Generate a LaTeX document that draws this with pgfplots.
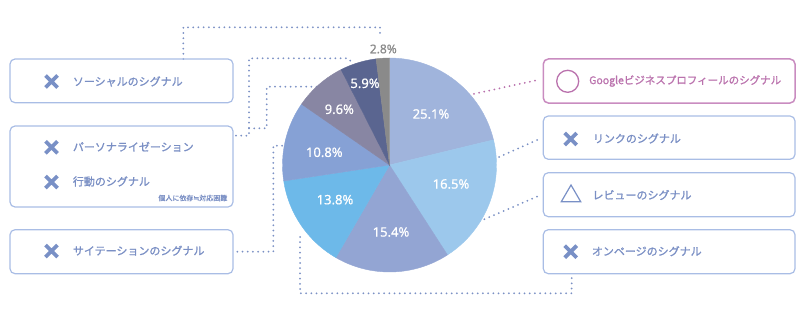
\documentclass[border=0pt]{standalone}
\usepackage{pgfplots}
\pgfplotsset{compat=1.18}
\usepackage{pgfplotstable}
\usepackage{fontspec}
\setmainfont{Noto Sans}
\newfontfamily\lab[FakeBold=0.7]{Noto Sans}
\newfontfamily\jp[FakeBold=1.2]{Noto Sans CJK JP}
\newfontfamily\dejavu[FakeBold=1.2]{DejaVu Sans}
\definecolor{s1}{HTML}{A0B4DC}
\definecolor{s2}{HTML}{9CC8EC}
\definecolor{s3}{HTML}{93A5D3}
\definecolor{s4}{HTML}{6DB9E9}
\definecolor{s5}{HTML}{86A1D5}
\definecolor{s6}{HTML}{8886A3}
\definecolor{s7}{HTML}{5A6590}
\definecolor{s8}{HTML}{8A8A8A}
\definecolor{txt}{HTML}{7A8FC4}
\definecolor{crossc}{HTML}{7990C6}
\definecolor{boxc}{HTML}{A9BDE5}
\definecolor{gtxt}{HTML}{BA72AD}
\definecolor{gbox}{HTML}{C98CC0}
\definecolor{dotc}{HTML}{7A90C4}
\definecolor{gdot}{HTML}{B870AC}

% pie slices: centre, start angle, end angle (degrees, as drawn), colour index
\pgfplotstableread{
x y start end ci
389.5 165 90 13.6 0
389.5 165 13.6 -57.2 1
389.5 165 -57.2 -120.1 2
389.5 165 -120.1 -171.4 3
389.5 165 -171.4 -214.7 4
389.5 165 -214.7 -243.1 5
389.5 165 -243.1 -262.8 6
389.5 165 -262.8 -270 7
}\pietable

\pgfplotstableread{
x y lab
431 114 25.1
451 184 16.5
391 232 15.4
335 199.7 13.8
324.3 152.3 10.8
339.3 109.3 9.6
365 83.3 5.9
}\labtable

\tikzset{
  dots/.style={dotc, line width=2pt, line cap=round, dash pattern=on 0pt off 5.2pt},
  gdots/.style={gdot, line width=2pt, line cap=round, dash pattern=on 0pt off 5.2pt},
  box/.style={boxc, line width=1.2pt, rounded corners=5pt},
  jtxt/.style={anchor=west, inner sep=0pt, text=txt, font=\jp\fontsize{11}{13}\selectfont},
}
\newcommand{\cross}[2]{\draw[crossc, line width=3.8pt] ([shift={(-6pt,-6pt)}]axis cs:#1,#2) -- ++(12pt,12pt) ([shift={(-6pt,6pt)}]axis cs:#1,#2) -- ++(12pt,-12pt);}

\begin{document}
\begin{tikzpicture}
\begin{axis}[
  width=800pt, height=321pt, scale only axis,
  xmin=0, xmax=800, ymin=0, ymax=321, y dir=reverse,
  hide axis, clip=false,
  colormap={pie}{color=(s1) color=(s2) color=(s3) color=(s4) color=(s5) color=(s6) color=(s7) color=(s8)},
]
\path (rel axis cs:0,0) rectangle (rel axis cs:1,1);

% dotted connectors (behind the pie)
\draw[dots] (axis cs:183.3,59) -- (axis cs:183.3,27.3) -- (axis cs:380,27.3) -- (axis cs:380,37);
\draw[dots] (axis cs:236,135.7) -- (axis cs:249,135.7) -- (axis cs:249,58.3) -- (axis cs:347,58.3) -- (axis cs:352,62);
\draw[dots] (axis cs:249,128.3) -- (axis cs:266.7,128.3) -- (axis cs:266.7,86.7) -- (axis cs:321.7,86.7);
\draw[dots] (axis cs:237.3,251.7) -- (axis cs:273.3,251.7) -- (axis cs:273.3,145.7) -- (axis cs:285,145.7);
\draw[dots] (axis cs:300,237) -- (axis cs:300,293.3) -- (axis cs:571.7,293.3) -- (axis cs:571.7,276);

% pie
\addplot[scatter, only marks, mark=*, mark size=0pt, mark options={draw=none,fill=none},
  point meta=\thisrow{ci}, point meta min=0, point meta max=7,
  visualization depends on={\thisrow{start} \as \sa},
  visualization depends on={\thisrow{end} \as \ea},
  scatter/@pre marker code/.code={%
    \pgfplotscolormapdefinemappedcolor{\pgfplotspointmetatransformed}%
    \fill[mapped color] (0pt,0pt) -- (\sa:107pt) arc[start angle=\sa, end angle=\ea, radius=107pt] -- cycle;
    \scope},
  scatter/@post marker code/.code={\endscope}]
  table[x=x,y=y] {\pietable};

% connectors over the pie
\draw[gdots] (axis cs:535,80.7) -- (axis cs:448.3,99.3);
\draw[dots] (axis cs:537,140) -- (axis cs:483.3,164);
\draw[dots] (axis cs:537,196.7) -- (axis cs:420,246.7);

% slice labels
\addplot[draw=none, mark=none, nodes near coords={\pgfplotspointmeta\%}, point meta=explicit symbolic,
  every node near coord/.style={anchor=center, inner sep=0pt, text=white, font=\lab\fontsize{13}{15}\selectfont}]
  table[x=x,y=y,meta=lab] {\labtable};
\addplot[draw=none, mark=none, nodes near coords={\pgfplotspointmeta\%}, point meta=explicit symbolic,
  every node near coord/.style={anchor=center, inner sep=0pt, text=s8, font=\lab\fontsize{12}{14}\selectfont}]
  coordinates {(383.3,49) [2.8]};

% left boxes
\draw[box] (axis cs:10,59) rectangle (axis cs:233,102.7);
\draw[box] (axis cs:10,126) rectangle (axis cs:233,207);
\draw[box] (axis cs:10,229.7) rectangle (axis cs:233,273.7);
\cross{51.5}{81.5}
\node[jtxt] at (axis cs:72.7,81.5) {ソーシャルのシグナル};
\cross{51.5}{147.3}
\node[jtxt] at (axis cs:72.7,146.8) {パーソナライゼーション};
\cross{51.5}{182}
\node[jtxt] at (axis cs:72.7,181.5) {行動のシグナル};
\node[anchor=east, inner sep=0pt, text=txt, font=\jp\fontsize{7}{8}\selectfont] at (axis cs:227.5,198) {個人に依存{\dejavu ≒}対応困難};
\cross{51.5}{251}
\node[jtxt] at (axis cs:72.7,250.7) {サイテーションのシグナル};

% right boxes
\draw[gbox, line width=1.5pt, rounded corners=5pt] (axis cs:543.3,59) rectangle (axis cs:795,103);
\draw[gtxt, line width=1.3pt] (axis cs:567.7,81.3) circle[radius=11pt];
\node[jtxt, text=gtxt, font=\jp\fontsize{10.5}{12}\selectfont] at (axis cs:589,81) {Googleビジネスプロフィールのシグナル};

\draw[box] (axis cs:543.3,116) rectangle (axis cs:795,159.3);
\cross{570.7}{139}
\node[jtxt] at (axis cs:592.7,138.5) {リンクのシグナル};

\draw[box] (axis cs:543.3,172.7) rectangle (axis cs:795,216.7);
\draw[crossc, line width=1.2pt, line join=miter] (axis cs:561.3,201.7) -- (axis cs:580.7,201.7) -- (axis cs:571,185) -- cycle;
\node[jtxt] at (axis cs:592.3,195) {レビューのシグナル};

\draw[box] (axis cs:543.3,229.7) rectangle (axis cs:795,273.7);
\cross{570.7}{251.7}
\node[jtxt] at (axis cs:591.7,251.2) {オンページのシグナル};
\end{axis}
\end{tikzpicture}
\end{document}
